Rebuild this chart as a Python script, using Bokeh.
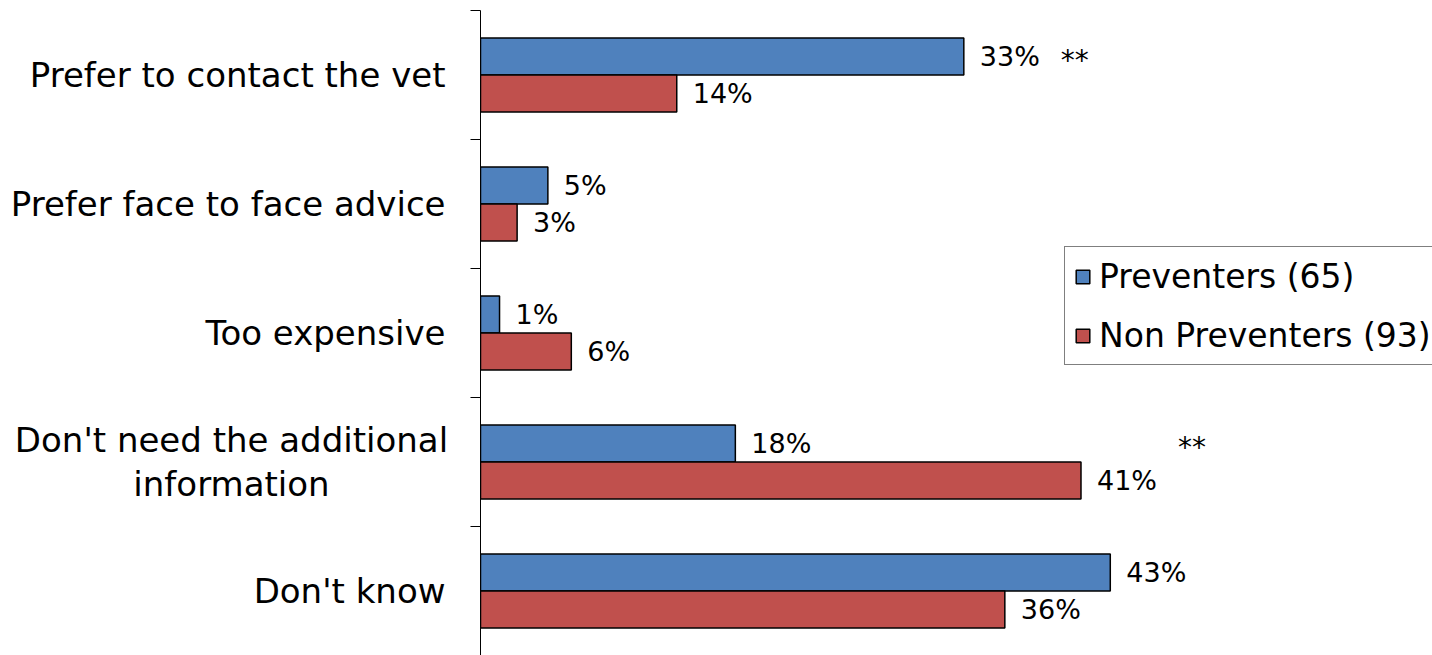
from bokeh.plotting import figure
from bokeh.layouts import row
from bokeh.models import ColumnDataSource, Range1d, FixedTicker, Legend, LegendItem
from bokeh.core.properties import value
from bokeh.embed import file_html
from bokeh.resources import INLINE

categories = [
    "Prefer to contact the vet",
    "Prefer face to face advice",
    "Too expensive",
    "Don't need the additional\ninformation",
    "Don't know",
]
preventers = [33, 4.6, 1.3, 17.4, 43]
non_preventers = [13.4, 2.5, 6.2, 41, 35.8]
preventer_labels = ["33%", "5%", "1%", "18%", "43%"]
non_preventer_labels = ["14%", "3%", "6%", "41%", "36%"]
significance = ["**", "", "", "**", ""]
series_names = ["Preventers (65)", "Non Preventers (93)"]
colors = ["#4F81BD", "#C0504D"]

FONT = "DejaVu Sans"
n = len(categories)
bar_h = 0.287
centers = [i + 0.5 for i in range(n)]
yr_shared = Range1d(n, 0)

src = ColumnDataSource(dict(
    yc=centers,
    yb=[c - bar_h / 2 for c in centers],
    yr=[c + bar_h / 2 for c in centers],
    p=preventers,
    np_=non_preventers,
    lp=preventer_labels,
    lnp=non_preventer_labels,
    mx=[max(a, b) for a, b in zip(preventers, non_preventers)],
    sig=significance,
))

# ---- label panel (category names), sharing the y range ----
LABEL_W = 470
lab = figure(width=LABEL_W, height=655, x_range=Range1d(0, LABEL_W), y_range=yr_shared,
             output_backend="svg", toolbar_location=None, x_axis_location=None,
             y_axis_location=None, min_border_left=0, min_border_right=0,
             min_border_top=10, min_border_bottom=0)
lab.outline_line_color = None
lab.xgrid.visible = False
lab.ygrid.visible = False
single = [(c, t) for c, t in zip(centers, categories) if "\n" not in t]
multi = [(c, t) for c, t in zip(centers, categories) if "\n" in t]
lab.text(x=[LABEL_W] * len(single), y=[c for c, _ in single], text=[t for _, t in single],
         x_offset=-25, text_align="right", text_baseline="middle",
         text_font=value(FONT), text_font_size="34px", text_color="black")
lab.text(x=[LABEL_W / 2] * len(multi), y=[c for c, _ in multi], text=[t for _, t in multi],
         x_offset=-4, text_align="center", text_baseline="middle", text_line_height=1.1,
         text_font=value(FONT), text_font_size="34px", text_color="black")

# ---- main bar chart ----
p = figure(width=1432 - LABEL_W, height=655, x_range=Range1d(0, 65), y_range=yr_shared,
           output_backend="svg", toolbar_location=None, x_axis_location=None,
           min_border_left=10, min_border_right=0, min_border_top=10, min_border_bottom=0)
p.outline_line_color = None
p.xgrid.visible = False
p.ygrid.visible = False

r1 = p.hbar(y="yb", left=0, right="p", height=bar_h, source=src,
            fill_color=colors[0], line_color="black", line_width=1.5)
r2 = p.hbar(y="yr", left=0, right="np_", height=bar_h, source=src,
            fill_color=colors[1], line_color="black", line_width=1.5)

p.text(x="p", y="yb", text="lp", source=src, x_offset=16, text_baseline="middle",
       text_align="left", text_font=value(FONT), text_font_size="27px", text_color="black")
p.text(x="np_", y="yr", text="lnp", source=src, x_offset=16, text_baseline="middle",
       text_align="left", text_font=value(FONT), text_font_size="27px", text_color="black")
p.text(x="mx", y="yb", text="sig", source=src, x_offset=97, y_offset=4, text_baseline="middle",
       text_align="left", text_font=value(FONT), text_font_size="28px", text_color="black")

ax = p.yaxis[0]
ax.ticker = FixedTicker(ticks=[], minor_ticks=list(range(n + 1)))
ax.major_label_text_font_size = "0px"
ax.major_tick_out = 0
ax.major_tick_in = 0
ax.minor_tick_out = 10
ax.minor_tick_in = 0
ax.minor_tick_line_color = "black"
ax.axis_line_color = "black"
ax.major_label_standoff = 0

legend = Legend(items=[LegendItem(label=series_names[0], renderers=[r1]),
                       LegendItem(label=series_names[1], renderers=[r2])],
                location=(584, 290), label_text_font=FONT, label_text_font_size="33px",
                label_text_color="black", glyph_width=17, glyph_height=17,
                label_standoff=8, padding=9, spacing=19, label_height=40, margin=0,
                border_line_color="black", border_line_width=1, background_fill_alpha=1)
p.add_layout(legend)

layout = row(lab, p, spacing=0)
open("out.html", "w").write(file_html(layout, INLINE))
